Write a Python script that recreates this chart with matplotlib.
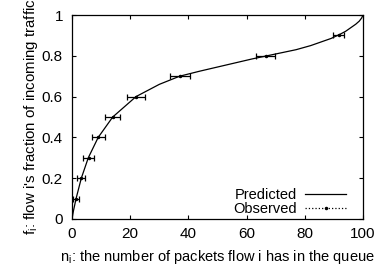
import numpy as np
import matplotlib
matplotlib.use('Agg')
import matplotlib.pyplot as plt
from matplotlib.lines import Line2D

plt.rcParams['font.family'] = ['Liberation Sans', 'DejaVu Sans']

# predicted curve
pred_x = [0, 0.5, 1.4, 3.2, 5.6, 9, 14, 22, 30, 37, 44, 50, 56, 62, 67, 72, 77,
          82, 86, 89, 92, 94, 96, 97.5, 98.7, 99.5, 100]
pred_y = [0, 0.04, 0.1, 0.2, 0.3, 0.4, 0.5, 0.6, 0.66, 0.7, 0.725, 0.745, 0.765,
          0.785, 0.8, 0.815, 0.83, 0.85, 0.87, 0.885, 0.905, 0.92, 0.94, 0.955,
          0.97, 0.985, 1.0]

# observed points with horizontal error
obs_x = [1.4, 3.2, 5.7, 9.1, 14.0, 22.0, 37.2, 66.6, 91.6]
obs_y = [0.1, 0.2, 0.3, 0.4, 0.5, 0.6, 0.7, 0.8, 0.9]
obs_err = [1.0, 1.4, 1.9, 2.2, 2.5, 3.0, 3.4, 3.3, 2.0]

fig = plt.figure(figsize=(3.77, 2.73), dpi=100)
ax = fig.add_axes([0.191, 0.198, 0.772, 0.747])

ax.plot(pred_x, pred_y, color='black', lw=0.9)
ax.errorbar(obs_x, obs_y, xerr=obs_err, fmt='.', color='black', ms=3,
            elinewidth=0.9, capsize=2, capthick=0.9)

ax.set_xlim(0, 100)
ax.set_ylim(0, 1)
ax.set_xticks([0, 20, 40, 60, 80, 100])
ax.set_yticks([0, 0.2, 0.4, 0.6, 0.8, 1])
ax.set_yticklabels(['0', '0.2', '0.4', '0.6', '0.8', '1'])
ax.tick_params(direction='in', top=True, right=True, length=3, labelsize=11)
ax.tick_params(axis='x', pad=5.5)
ax.tick_params(axis='y', pad=6.5)
for s in ax.spines.values():
    s.set_linewidth(0.9)

ax.set_xlabel(r"n$_\mathregular{i}$: the number of packets flow i has in the queue", fontsize=10.5, labelpad=5)
ax.set_ylabel(r"f$_\mathregular{i}$: flow i's fraction of incoming traffic", fontsize=10.8, labelpad=1)

handles = [Line2D([], [], color='black', lw=0.9),
           Line2D([], [], color='black', lw=0.9, ls=':', marker='.', ms=3)]
ax.legend(handles, ['Predicted', 'Observed'], loc='lower right', frameon=False,
          markerfirst=False, fontsize=10.5, handlelength=2.8, handletextpad=0.55,
          labelspacing=0.05, borderaxespad=0, borderpad=0,
          bbox_to_anchor=(0.942, 0.012))

fig.savefig('out.png', dpi=100)
